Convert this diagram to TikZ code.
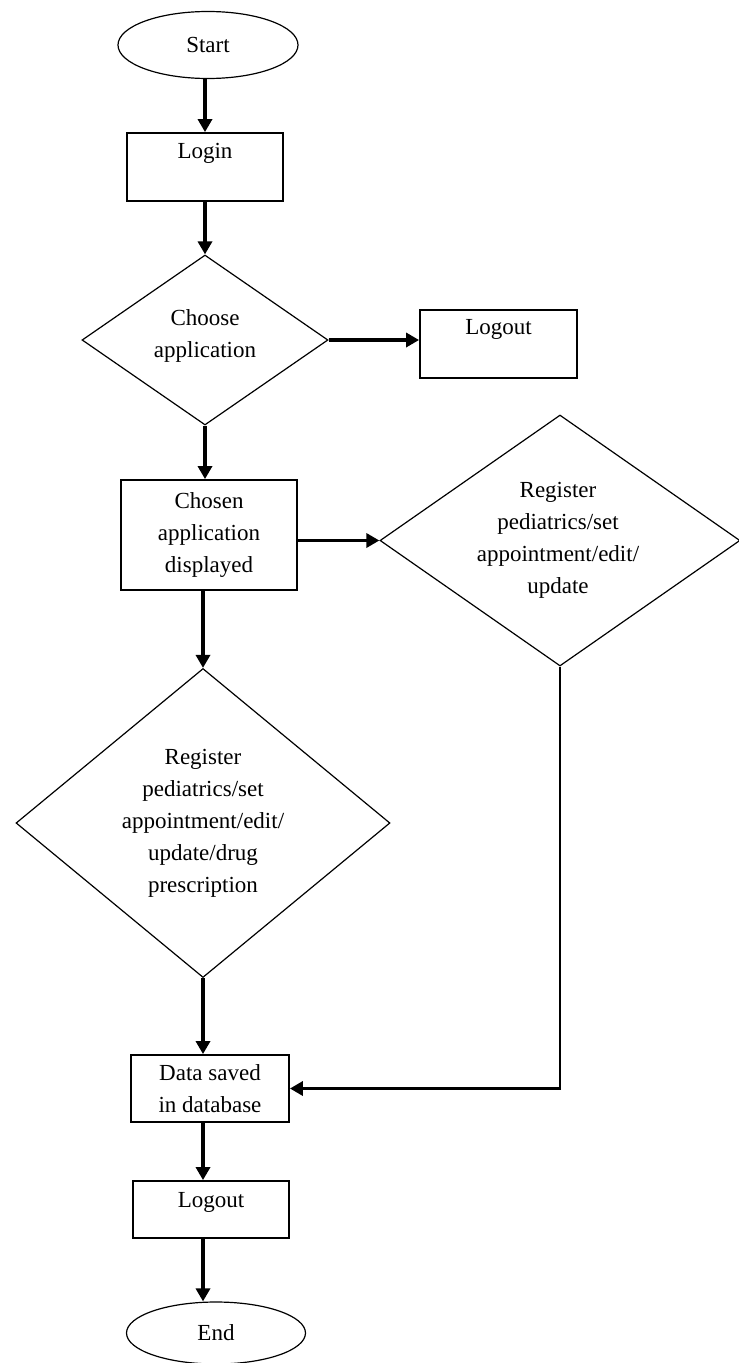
\documentclass[tikz,border=0pt]{standalone}
\usepackage{fontspec}
\setmainfont{Liberation Serif}
\usetikzlibrary{shapes.geometric,arrows.meta}
\begin{document}
\begin{tikzpicture}[x=1pt,y=-1pt,
  font=\fontsize{23}{32}\selectfont,
  box/.style={draw, line width=1.8pt, inner sep=0pt, align=center},
  oval/.style={draw, ellipse, line width=1.2pt, inner sep=0pt},
  dec/.style={draw, diamond, line width=1.2pt, inner sep=0pt},
  flow/.style={line width=3.5pt, -{Triangle[length=13pt,width=14pt]}},
  thinline/.style={line width=2pt},
  ]
\useasboundingbox (0,0) rectangle (739,1363);
\fill[white] (0,0) rectangle (739,1363);

\node[oval, minimum width=180pt, minimum height=67pt] (start) at (208,45) {Start};
\node[box, minimum width=156pt, minimum height=68pt,
  label={[anchor=center, yshift=-21pt]north:Login}] (login) at (205,167) {};
\node[dec, minimum width=246pt, minimum height=170pt,
  label={[anchor=center, yshift=4pt, align=center]center:Choose\\application}] (d1) at (205,340) {};
\node[box, minimum width=157pt, minimum height=68pt,
  label={[anchor=center, yshift=-20pt]north:Logout}] (logout1) at (498.5,344) {};
\node[box, minimum width=176pt, minimum height=110pt] (chosen) at (209,535) {Chosen\\application\\displayed};
\node[dec, minimum width=360pt, minimum height=251pt,
  label={[anchor=center, align=center, xshift=-2pt]center:Register\\pediatrics/set\\appointment/edit/\\update}] (d2) at (560,540.5) {};
\node[dec, minimum width=374pt, minimum height=309pt,
  label={[anchor=center, align=center]center:Register\\pediatrics/set\\appointment/edit/\\update/drug\\prescription}] (d3) at (203,823) {};
\node[box, minimum width=158pt, minimum height=67pt] (data) at (210,1088.5) {Data saved\\in database};
\node[box, minimum width=156pt, minimum height=57pt,
  label={[anchor=center, yshift=-22pt]north:Logout}] (logout2) at (211,1209.5) {};
\node[oval, minimum width=179pt, minimum height=62pt] (end) at (216,1333) {End};

\draw[flow] (login.north |- start.south) -- (login.north);
\draw[flow] (login.south -| d1.north) -- (d1.north);
\draw[flow] (d1.east) -- (d1.east -| logout1.west);
\draw[flow] (d1.south) -- (d1.south |- chosen.north);
\draw[flow] (chosen.east |- d2.west) -- (d2.west);
\draw[flow] (chosen.south -| d3.north) -- (d3.north);
\draw[flow] (d3.south) -- (d3.south |- data.north);
\coordinate (corner) at (d2.south |- data.east);
\draw[thinline] (d2.south) -- (corner);
\draw[flow] ([xshift=1pt]corner) -- (data.east);
\draw[flow] (data.south -| d3.south) -- (logout2.north -| d3.south);
\draw[flow] (logout2.south -| d3.south) -- (end.north -| d3.south);
\end{tikzpicture}
\end{document}
